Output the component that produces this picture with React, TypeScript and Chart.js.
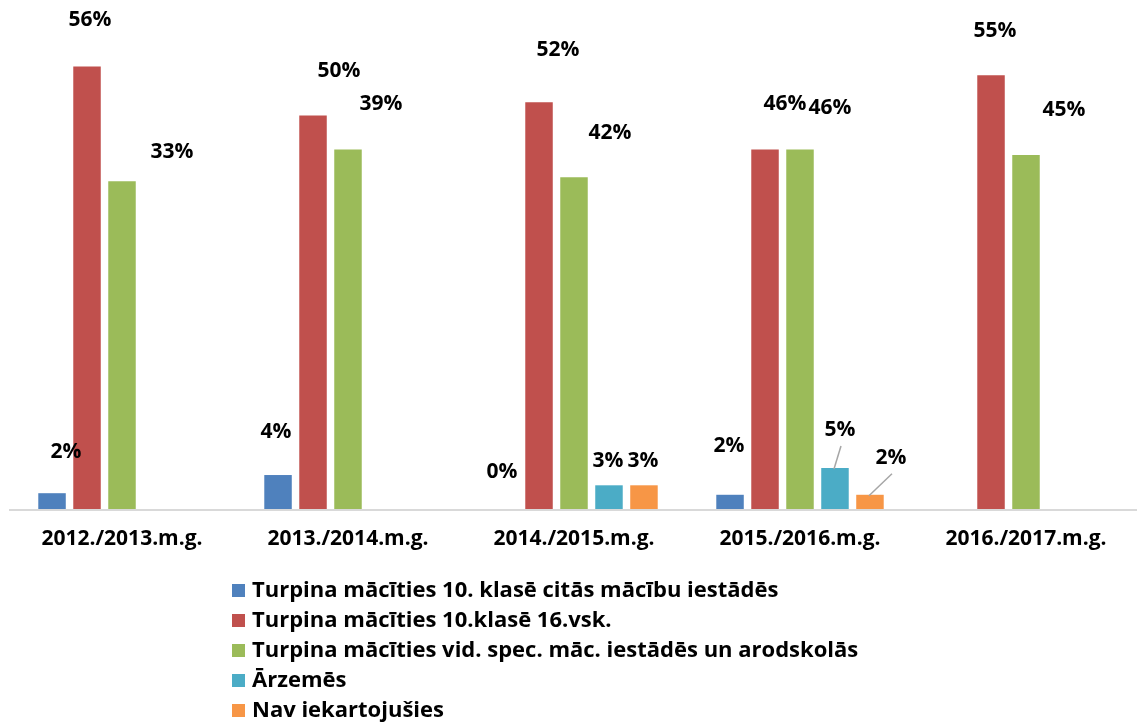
import React, { useEffect, useRef } from "react";
import { Chart, registerables } from "chart.js";

Chart.register(...registerables);

const CATEGORIES = [
  "2012./2013.m.g.",
  "2013./2014.m.g.",
  "2014./2015.m.g.",
  "2015./2016.m.g.",
  "2016./2017.m.g.",
];

const SERIES_NAMES = [
  "Turpina mācīties 10. klasē citās mācību iestādēs",
  "Turpina mācīties 10.klasē 16.vsk.",
  "Turpina mācīties vid. spec. māc. iestādēs un arodskolās",
  "Ārzemēs",
  "Nav iekartojušies",
];

const COLORS = ["#4F81BD", "#C0504D", "#9BBB59", "#4BACC6", "#F79646"];

// bar heights (as drawn)
const CITAS = [2.0, 4.3, 0, 1.8, null];
const VSK16 = [56, 49.8, 51.5, 45.5, 54.9];
const VIDSPEC = [41.5, 45.5, 42, 45.5, 44.8];
const ARZEMES = [null, null, 3, 5.2, null];
const NAV = [null, null, 3, 1.8, null];

// data label texts
const CITAS_LBL = ["2%", "4%", "0%", "2%", null];
const VSK16_LBL = ["56%", "50%", "52%", "46%", "55%"];
const VIDSPEC_LBL = ["33%", "39%", "42%", "46%", "45%"];
const ARZEMES_LBL = [null, null, "3%", "5%", null];
const NAV_LBL = [null, null, "3%", "2%", null];

const VALUES = [CITAS, VSK16, VIDSPEC, ARZEMES, NAV];
const LABELS = [CITAS_LBL, VSK16_LBL, VIDSPEC_LBL, ARZEMES_LBL, NAV_LBL];

// label offsets from bar top centre [dx, dy]
const LABEL_OFFSETS: number[][][] = [
  [[14, -41], [-2, -43], [-2, -37], [-1, -49], [0, 0]],
  [[3, -47], [26, -45], [19, -52], [20, -46], [4, -44]],
  [[50, -29], [33, -46], [36, -44], [30, -42], [38, -45]],
  [[0, 0], [0, 0], [-1, -24], [5, -38], [0, 0]],
  [[0, 0], [0, 0], [-1, -24], [21, -37], [0, 0]],
];
// leader lines [series, category]
const LEADERS = [
  [3, 3],
  [4, 3],
];

const FONT = "'Open Sans', 'Noto Sans', sans-serif";

const overlay = {
  id: "overlay",
  afterDatasetsDraw(chart: any) {
    const ctx = chart.ctx;
    const area = chart.chartArea;
    const xs = chart.scales.x;
    ctx.save();
    // axis line
    ctx.strokeStyle = "#D9D9D9";
    ctx.lineWidth = 2;
    ctx.beginPath();
    ctx.moveTo(area.left, area.bottom + 1);
    ctx.lineTo(area.right, area.bottom + 1);
    ctx.stroke();

    // category labels
    ctx.fillStyle = "#000";
    ctx.font = `bold 21px ${FONT}`;
    ctx.textAlign = "center";
    ctx.textBaseline = "middle";
    CATEGORIES.forEach((c, i) => {
      ctx.fillText(c, xs.getPixelForValue(i), 539);
    });

    // leader lines
    ctx.strokeStyle = "#A6A6A6";
    ctx.lineWidth = 1.5;
    LEADERS.forEach(([s, c]) => {
      const bar = chart.getDatasetMeta(s).data[c];
      const off = LABEL_OFFSETS[s][c];
      const lx = bar.x + off[0];
      const ly = bar.y + off[1];
      ctx.beginPath();
      ctx.moveTo(lx + 1, ly + 16);
      ctx.lineTo(bar.x - 1, bar.y + 1);
      ctx.stroke();
    });

    // data labels
    ctx.fillStyle = "#000";
    ctx.font = `bold 21px ${FONT}`;
    LABELS.forEach((arr, s) => {
      const meta = chart.getDatasetMeta(s);
      arr.forEach((t, c) => {
        if (t == null) return;
        const bar = meta.data[c];
        const off = LABEL_OFFSETS[s][c];
        ctx.fillText(t, bar.x + off[0], bar.y + off[1]);
      });
    });

    // legend
    ctx.textAlign = "left";
    ctx.font = `bold 22px ${FONT}`;
    SERIES_NAMES.forEach((n, i) => {
      const y = 591 + i * 30;
      ctx.fillStyle = COLORS[i];
      ctx.fillRect(232, y - 7, 13, 13);
      ctx.fillStyle = "#000";
      ctx.fillText(n, 252, y);
    });
    ctx.restore();
  },
};

export default function App() {
  const ref = useRef<HTMLCanvasElement>(null);
  useEffect(() => {
    document.body.style.margin = "0";
    const chart = new Chart(ref.current!, {
      type: "bar",
      data: {
        labels: CATEGORIES,
        datasets: VALUES.map((v, i) => ({
          label: SERIES_NAMES[i],
          data: v as any,
          backgroundColor: COLORS[i],
          borderWidth: 0,
          categoryPercentage: 0.774,
          barPercentage: 0.786,
        })),
      },
      options: {
        responsive: false,
        animation: false,
        layout: { padding: { top: 35, bottom: 218, left: 9, right: 0 } },
        plugins: {
          legend: { display: false },
          tooltip: { enabled: false },
        },
        scales: {
          x: { display: false },
          y: { display: false, min: 0, max: 60 },
        },
      },
      plugins: [overlay],
    });
    return () => chart.destroy();
  }, []);
  return (
    <div style={{ width: 1137, height: 727, overflow: "hidden", position: "relative", background: "#fff" }}>
      <canvas ref={ref} width={1139} height={727} style={{ display: "block" }} />
    </div>
  );
}
